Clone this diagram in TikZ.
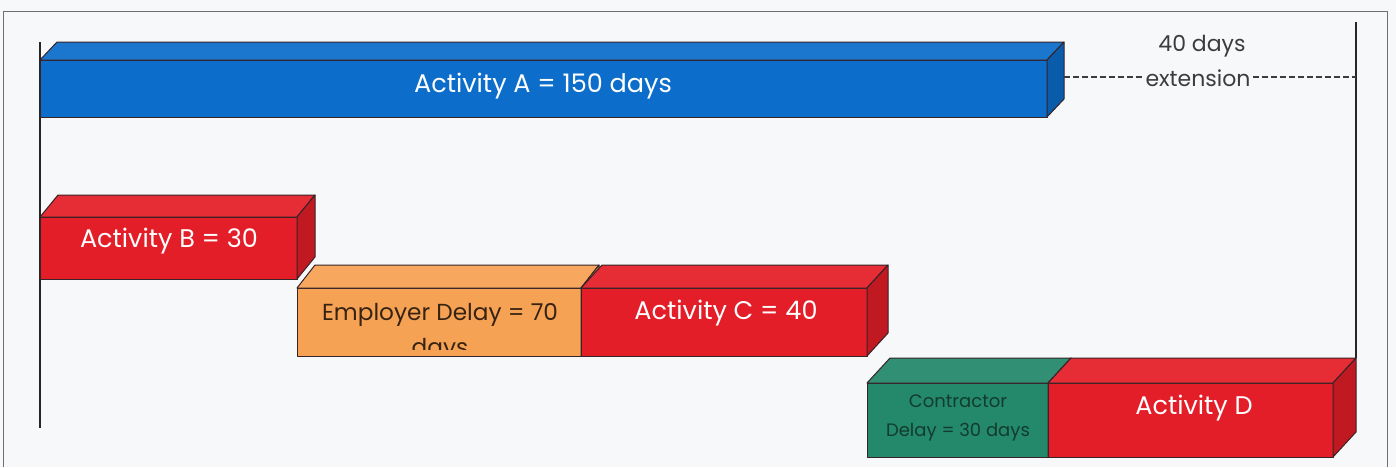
\documentclass[tikz,border=0pt]{standalone}
\usepackage{fontspec}
\setmainfont{Poppins}
\definecolor{bgc}{RGB}{247,248,250}
\definecolor{framec}{RGB}{110,110,115}
\definecolor{edgec}{RGB}{55,35,40}
\definecolor{blueA}{RGB}{12,110,202}
\definecolor{redA}{RGB}{228,30,40}
\definecolor{orangeA}{RGB}{246,162,84}
\definecolor{greenA}{RGB}{36,136,106}
\definecolor{darktxt}{RGB}{55,35,20}
\definecolor{greentxt}{RGB}{18,60,45}
\definecolor{greytxt}{RGB}{60,60,62}
% a bar drawn as a box: front face as a named node, then top and right faces
\newcommand\cuboid[8]{% name, x1, ytop, x2, ybot, depth x, depth y, colour
  \node[face, fill=#8, minimum width=#4-#2, minimum height=#5-#3, anchor=north west] (#1) at (#2,#3) {};
  \filldraw[faceedge, fill=#8!94!white] (#1.north west) -- ++(#6,-#7)
     -- ([shift={(#6,-#7)}]#1.north east) -- (#1.north east) -- cycle;
  \filldraw[faceedge, fill=#8!84!black] (#1.north east) -- ++(#6,-#7)
     -- ([shift={(#6,-#7)}]#1.south east) -- (#1.south east) -- cycle;
}
\begin{document}
\begin{tikzpicture}[x=1pt,y=-1pt,line join=round,
  face/.style={draw=edgec, line width=1pt, inner sep=0pt, outer sep=0pt},
  faceedge/.style={draw=edgec, line width=1pt},
  timeline/.style={draw=black!85, line width=1.5pt},
  bigwhite/.style={text=white, font=\fontsize{25.5}{30}\selectfont},
  darklbl/.style={text=darktxt, font=\fontsize{23.2}{27}\selectfont},
  greenlbl/.style={text=greentxt, font=\fontsize{18}{21}\selectfont},
  greylbl/.style={text=greytxt, font=\fontsize{22}{26}\selectfont, fill=bgc, inner xsep=1pt, inner ysep=0pt}]
\useasboundingbox (0,0) rectangle (1396,467);
\fill[bgc] (0,0) rectangle (1396,467);
\draw[framec, line width=0.9pt] (3,467) -- (3,11) -- (1387,11) -- (1387,467);

% start and finish lines
\coordinate (ltop) at (40,42);
\coordinate (lbot) at (40,428);
\coordinate (rtop) at (1356,22);
\coordinate (rbot) at (1356,358);
\draw[timeline] (ltop) -- (lbot);
\draw[timeline] (rtop) -- (rbot);

% bars
\cuboid{actA}{40}{60}{1047}{117}{17}{18}{blueA}
\cuboid{actB}{40}{217}{297}{279}{18}{22}{redA}
\cuboid{empl}{297}{288}{581}{356}{18}{23}{orangeA}
\cuboid{actC}{581}{288}{867}{356}{21}{23}{redA}
\cuboid{contr}{867}{383}{1048}{457}{23}{25}{greenA}
\cuboid{actD}{1048}{383}{1333}{457}{23}{25}{redA}

% labels
\node[bigwhite] (tA) at (543,86) {Activity A = 150 days};
\node[bigwhite] (tB) at (169,241) {Activity B = 30};
\node[darklbl, anchor=base] (tE) at (440,320) {Employer Delay = 70};
\begin{scope}
  \clip (297,288) rectangle (581,349);
  \node[darklbl, anchor=base] (tE2) at (440,355) {days};
\end{scope}
\node[bigwhite] (tC) at (726,313) {Activity C = 40};
\node[greenlbl] (tK1) at (958,401) {Contractor};
\node[greenlbl] (tK2) at (958,432) {Delay = 30 days};
\node[bigwhite] (tD) at (1194,408) {Activity D};

% extension of activity A up to the finish line
\coordinate (aend) at (1064,77);
\draw[greytxt, line width=1.5pt, dash pattern=on 5.5pt off 3.5pt] (aend) -- (aend -| rtop);
\node[greylbl] (ext1) at (1202,46) {40 days};
\node[greylbl] (ext2) at (1198,78) {extension};
\end{tikzpicture}
\end{document}
